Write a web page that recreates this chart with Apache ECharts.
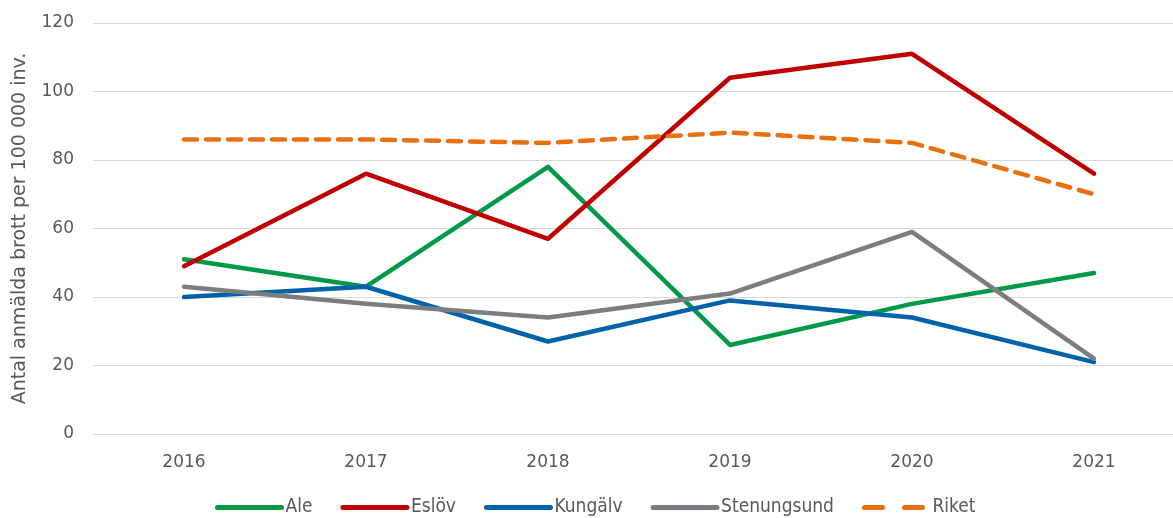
<!DOCTYPE html>
<html>
<head>
<meta charset="utf-8">
<script src="https://cdn.jsdelivr.net/npm/echarts@6/dist/echarts.min.js"></script>
<style>
  html, body { margin: 0; padding: 0; background: #fff; }
  #chart { width: 1173px; height: 518px; }
</style>
</head>
<body>
<div id="chart"></div>
<script>
var years = ['2016', '2017', '2018', '2019', '2020', '2021'];
var ale = [51, 43, 78, 26, 38, 47];
var eslov = [49, 76, 57, 104, 111, 76];
var kungalv = [40, 43, 27, 39, 34, 21];
var stenungsund = [43, 38, 34, 41, 59, 22];
var riket = [86, 86, 85, 88, 85, 70];

var myChart = echarts.init(document.getElementById('chart'));

function line(name, data, color, dashed) {
    return {
        name: name,
        type: 'line',
        data: data,
        symbol: 'none',
        lineStyle: {
            color: color,
            width: 4.5,
            type: dashed ? [13, 9] : 'solid',
            cap: 'round',
            join: 'round'
        },
        itemStyle: { color: color }
    };
}

var axisFont = "'DejaVu Sans', sans-serif";
var legendFont = "'DejaVu Sans Condensed', 'DejaVu Sans', sans-serif";

var option = {
    animation: false,
    grid: {
        left: 93,
        top: 23,
        width: 1092,
        height: 411,
        outerBoundsMode: 'none'
    },
    legend: {
        top: 493,
        left: 210,
        itemWidth: 64,
        itemHeight: 14,
        itemGap: 28,
        itemStyle: { opacity: 0 },
        lineStyle: { width: 5 },
        textStyle: { fontSize: 19, color: '#595959', fontFamily: legendFont, padding: [0, 0, 0, -1] },
        data: ['Ale', 'Eslöv', 'Kungälv', 'Stenungsund',
            { name: 'Riket', lineStyle: { type: [18, 22] } }]
    },
    xAxis: {
        type: 'category',
        boundaryGap: true,
        data: years,
        axisLine: { show: true, lineStyle: { color: '#d9d9d9' } },
        axisTick: { show: false },
        axisLabel: { color: '#595959', fontSize: 17, margin: 20, fontFamily: axisFont }
    },
    yAxis: {
        type: 'value',
        min: 0,
        max: 120,
        interval: 20,
        name: 'Antal anmälda brott per 100 000 inv.',
        nameLocation: 'middle',
        nameGap: 63,
        nameTextStyle: { color: '#595959', fontSize: 19, fontFamily: axisFont },
        axisLine: { show: false },
        axisTick: { show: false },
        splitLine: { lineStyle: { color: '#d9d9d9', width: 1 } },
        axisLabel: { color: '#595959', fontSize: 17, margin: 19, fontFamily: axisFont }
    },
    series: [
        line('Ale', ale, '#00994a'),
        line('Eslöv', eslov, '#c00000'),
        line('Kungälv', kungalv, '#0062a8'),
        line('Stenungsund', stenungsund, '#7b7d80'),
        line('Riket', riket, '#e8710f', true)
    ]
};

myChart.setOption(option);
</script>
</body>
</html>
